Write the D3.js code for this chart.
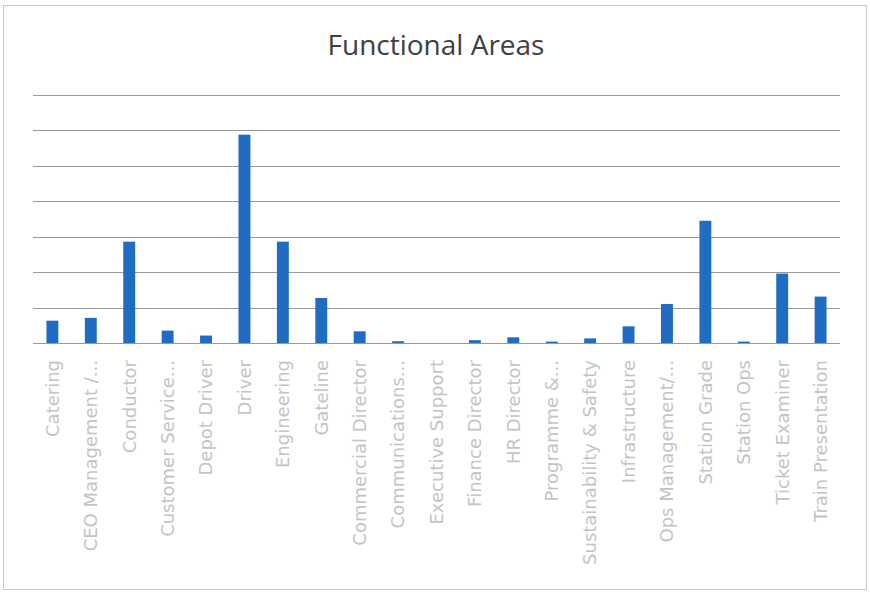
<!DOCTYPE html>
<html>
<head>
<meta charset="utf-8">
<script src="https://cdn.jsdelivr.net/npm/d3@7"></script>
<style>
  html, body { margin: 0; padding: 0; background: #fff; }
  svg { display: block; }
</style>
</head>
<body>
<svg id="chart" width="870" height="593"></svg>
<script>
// Staff count per functional area
const categories = [
  "Catering", "CEO Management /...", "Conductor", "Customer Service...",
  "Depot Driver", "Driver", "Engineering", "Gateline", "Commercial Director",
  "Communications...", "Executive Support", "Finance Director", "HR Director",
  "Programme &...", "Sustainability & Safety", "Infrastructure",
  "Ops Management/...", "Station Grade", "Station Ops", "Ticket Examiner",
  "Train Presentation"
];
const values = [
  6.3, 7.1, 28.6, 3.5, 2.1, 58.8, 28.6, 12.7, 3.3,
  0.5, 0, 0.8, 1.6, 0.4, 1.3, 4.7, 11, 34.5, 0.4, 19.6, 13.1
];
const gridTicks = [0, 10, 20, 30, 40, 50, 60, 70];

const svg = d3.select("#chart");
const plot = { left: 33, right: 840, top: 95, bottom: 343 };

// chart frame
svg.append("rect")
  .attr("x", 3.5).attr("y", 5.5)
  .attr("width", 863).attr("height", 584)
  .attr("fill", "#fff")
  .attr("stroke", "#c8c8c8").attr("stroke-width", 1);

// title
svg.append("text")
  .attr("x", 436).attr("y", 55)
  .attr("text-anchor", "middle")
  .attr("font-family", "'Open Sans', sans-serif")
  .attr("font-size", 28)
  .attr("fill", "#404040")
  .text("Functional Areas");

const x = d3.scaleBand()
  .domain(categories)
  .range([plot.left, plot.right])
  .paddingInner(0.69)
  .paddingOuter(0.35);

const y = d3.scaleLinear()
  .domain([0, 70])
  .range([plot.bottom, plot.top]);

// horizontal gridlines
svg.append("g")
  .selectAll("line")
  .data(gridTicks)
  .join("line")
  .attr("x1", plot.left).attr("x2", plot.right)
  .attr("y1", d => Math.round(y(d)) + 0.5)
  .attr("y2", d => Math.round(y(d)) + 0.5)
  .attr("stroke", "#9a9a9a")
  .attr("stroke-width", 1);

// bars
svg.append("g")
  .selectAll("rect")
  .data(categories.map((c, i) => ({ c, v: values[i] })))
  .join("rect")
  .attr("x", d => x(d.c))
  .attr("width", x.bandwidth())
  .attr("y", d => y(d.v))
  .attr("height", d => y(0) - y(d.v))
  .attr("fill", "#1f6cc2");

// category labels, rotated
const xAxis = d3.axisBottom(x).tickSize(0).tickPadding(0);
const gx = svg.append("g")
  .attr("transform", `translate(0,${plot.bottom})`)
  .call(xAxis);
gx.select(".domain").remove();
gx.selectAll("text")
  .attr("transform", "rotate(-90)")
  .attr("text-anchor", "end")
  .attr("x", -17)
  .attr("y", 0)
  .attr("dy", "0.35em")
  .attr("font-family", "'DejaVu Sans', sans-serif")
  .attr("font-size", 18)
  .attr("fill", "#c4c4c4");
</script>
</body>
</html>
